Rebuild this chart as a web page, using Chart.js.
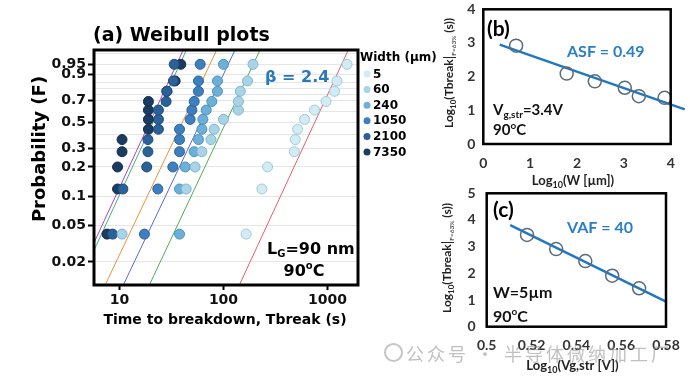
<!DOCTYPE html>
<html>
<head>
<meta charset="utf-8">
<script src="https://cdn.jsdelivr.net/npm/chart.js@4.4.0/dist/chart.umd.min.js"></script>
<style>
  body { margin: 0; background: #fff; width: 690px; height: 378px; overflow: hidden; position: relative; }
  canvas { position: absolute; }
  #chartA { left: 0; top: 0; }
  #chartB { left: 430px; top: 0; }
  #chartC { left: 430px; top: 180px; }
  #wm { position: absolute; left: 406px; top: 340px; font: 18px "Noto Sans CJK SC"; letter-spacing: 3px; color: rgba(140,140,140,0.55); white-space: nowrap; }
  #wmIcon { position: absolute; left: 384px; top: 343px; width: 15px; height: 15px; border: 2px solid rgba(140,140,140,0.5); border-radius: 50%; }
</style>
</head>
<body>
<canvas id="chartA" width="440" height="378"></canvas>
<canvas id="chartB" width="260" height="190"></canvas>
<canvas id="chartC" width="260" height="198"></canvas>
<div id="wmIcon"></div>
<div id="wm">公众号 · 半导体微纳加工厂</div>
<script>
// ---- panel (a): Weibull plots ----
const widths = ["5", "60", "240", "1050", "2100", "7350"];
const rankF = [0.04, 0.12, 0.20, 0.28, 0.36, 0.44, 0.525, 0.61, 0.69, 0.78, 0.86, 0.95];
const tW5 = [165, 234, 265, 479, 489, 515, 601, 750, 966, 1167, 1230, 1538];
const tW60 = [10.6, 43.8, 53.4, 62.0, 75.7, 81.4, 100, 139, 139, 145, 170, 192];
const tW240 = [37.8, 37.8, 42.9, 52.3, 57.5, 62.0, 63.4, 68.2, 77.3, 87.5, 87.5, 100];
const tW1050 = [17.4, 23.4, 32.6, 37.8, 37.8, 37.8, 47.8, 49.7, 52.3, 57.5, 57.5, 59.7];
const tW2100 = [8.6, 10.8, 18.3, 18.8, 18.8, 23.7, 23.7, 23.7, 28.1, 28.6, 33.0, 33.6];
const tW7350 = [7.6, 9.6, 9.6, 10.6, 10.6, 19.0, 19.0, 19.0, 19.0, 28.6, 34.3, 38.9];
// fitted lines: time at the bottom (F=0.0112) and top (F=0.9865) of the plot
const fitF = [0.0112, 0.9865];
const fitTLo = [142, 19.4, 10.9, 7.3, 4.0, 3.7];
const fitTHi = [1580, 224, 129, 86, 44, 41];
const xTicksA = [10, 100, 1000];
const yLabelF = [0.95, 0.9, 0.7, 0.5, 0.3, 0.2, 0.1, 0.05, 0.02];
const yGridF = [0.98, 0.95, 0.9, 0.85, 0.8, 0.75, 0.7, 0.6, 0.5, 0.4, 0.3, 0.2, 0.1, 0.05, 0.02];

// ---- panel (b): area scaling ----
const logW = [0.70, 1.78, 2.38, 3.02, 3.32, 3.87];
const logT63b = [2.92, 2.09, 1.86, 1.67, 1.42, 1.37];
const asfLineX = [0.35, 4.3];
const asfLineY = [2.95, 1.03];

// ---- panel (c): voltage acceleration ----
const logVg = [0.518, 0.531, 0.544, 0.556, 0.568];
const logT63c = [3.44, 2.91, 2.46, 1.91, 1.44];
const vafLineX = [0.5105, 0.58];
const vafLineY = [3.81, 0.94];
const xTicksC = [0.5, 0.52, 0.54, 0.56, 0.58];

const FA = "DejaVu Sans";
const FB = "Lato";
const pointFill = ["#d3ebf3", "#a9d3e6", "#6cb0d8", "#3d80bf", "#2a6198", "#1b3b60"];
const pointEdge = ["#9ecbdb", "#7db6cf", "#4a92bf", "#2b6197", "#1d4a77", "#122c4a"];
const fitColor = ["#e0606c", "#4cb050", "#5a6ad8", "#e8943a", "#3cb878", "#b040c8"];

const weib = F => Math.log(-Math.log(1 - F));

function rich(ctx, x, y, parts, opt = {}) {
    ctx.save();
    ctx.translate(x, y);
    if (opt.rot) ctx.rotate(opt.rot);
    let total = 0;
    for (const p of parts) { ctx.font = p.f; p.w = ctx.measureText(p.t).width; total += p.w; }
    let cx = opt.align === "center" ? -total / 2 : 0;
    ctx.textBaseline = "alphabetic";
    ctx.textAlign = "left";
    for (const p of parts) {
        ctx.font = p.f;
        ctx.fillStyle = p.c || opt.color || "#000";
        ctx.fillText(p.t, cx, p.dy || 0);
        cx += p.w;
    }
    ctx.restore();
}

function boxPlugin(width) {
    return {
        id: "box",
        afterDatasetsDraw(chart) {
            const a = chart.chartArea, ctx = chart.ctx;
            ctx.save();
            ctx.strokeStyle = "#000";
            ctx.lineWidth = width;
            ctx.strokeRect(a.left, a.top, a.right - a.left, a.bottom - a.top);
            ctx.restore();
        }
    };
}

// ---------- chart A ----------
const seriesT = [tW5, tW60, tW240, tW1050, tW2100, tW7350];
const dsA = [];
seriesT.forEach((ts, i) => {
    dsA.push({
        label: widths[i],
        data: ts.map((t, k) => ({x: t, y: weib(rankF[k])})),
        backgroundColor: pointFill[i],
        borderColor: pointEdge[i],
        borderWidth: 1,
        pointRadius: 5,
        pointHoverRadius: 5,
        showLine: false,
        order: 2 + i
    });
});
fitTLo.forEach((t0, i) => {
    dsA.push({
        label: "",
        data: [{x: t0, y: weib(fitF[0])}, {x: fitTHi[i], y: weib(fitF[1])}],
        showLine: true,
        borderColor: fitColor[i],
        borderWidth: 1,
        pointRadius: 0,
        order: 10
    });
});

const decoA = {
    id: "decoA",
    afterDraw(chart) {
        const ctx = chart.ctx;
        rich(ctx, 93, 40.5, [{t: "(a) Weibull plots", f: `bold 19px ${FA}`}]);
        rich(ctx, 45, 149, [{t: "Probability (F)", f: `bold 18px ${FA}`}], {rot: -Math.PI / 2, align: "center"});
        rich(ctx, 225, 323.5, [{t: "Time to breakdown, Tbreak (s)", f: `bold 14px ${FA}`}], {align: "center"});
        rich(ctx, 265, 81.5, [{t: "β = 2.4", f: `bold 16px ${FA}`}], {color: "#2878be"});
        rich(ctx, 267, 254, [
            {t: "L", f: `bold 16px ${FA}`},
            {t: "G", f: `bold 10px ${FA}`, dy: 3},
            {t: "=90 nm", f: `bold 16px ${FA}`}
        ]);
        rich(ctx, 304, 276, [
            {t: "90", f: `bold 16px ${FA}`},
            {t: "o", f: `bold 10px ${FA}`, dy: -7},
            {t: "C", f: `bold 16px ${FA}`}
        ], {align: "center"});
        // legend
        ctx.save();
        ctx.font = `bold 12px ${FA}`;
        ctx.fillStyle = "#000";
        ctx.textBaseline = "middle";
        ctx.fillText("Width (µm)", 360, 58);
        widths.forEach((w, i) => {
            const y = 74 + i * 15.6;
            ctx.beginPath();
            ctx.arc(367, y, 3.5, 0, Math.PI * 2);
            ctx.fillStyle = pointFill[i];
            ctx.fill();
            ctx.fillStyle = "#000";
            ctx.fillText(w, 373, y + 0.5);
        });
        ctx.restore();
    }
};

new Chart(document.getElementById("chartA"), {
    type: "scatter",
    data: {datasets: dsA},
    options: {
        responsive: false,
        animation: false,
        events: [],
        layout: {padding: {left: 0, top: 50, right: 82, bottom: 48}},
        plugins: {legend: {display: false}, tooltip: {enabled: false}},
        scales: {
            x: {
                type: "logarithmic",
                min: 5.7,
                max: 1960,
                afterBuildTicks: s => { s.ticks = xTicksA.map(v => ({value: v})); },
                afterFit: s => { s.height = 45; },
                grid: {drawOnChartArea: false, tickLength: 5, tickWidth: 2, tickColor: "#000"},
                border: {display: false},
                ticks: {
                    font: {family: FA, weight: "bold", size: 14},
                    color: "#111",
                    padding: 2,
                    maxRotation: 0,
                    autoSkip: false,
                    callback: v => String(v)
                }
            },
            y: {
                type: "linear",
                min: weib(fitF[0]),
                max: weib(fitF[1]),
                afterBuildTicks: s => { s.ticks = yGridF.map(F => ({value: weib(F), F: F})); },
                afterFit: s => { s.width = 94; },
                grid: {
                    color: "#e6e6e6",
                    lineWidth: 1,
                    tickLength: 6,
                    tickWidth: 2,
                    tickColor: c => (c.tick && yLabelF.includes(c.tick.F)) ? "#000" : "rgba(0,0,0,0)"
                },
                border: {display: false},
                ticks: {
                    font: {family: FA, weight: "bold", size: 14},
                    color: "#111",
                    padding: 2,
                    autoSkip: false,
                    callback: (v, i, ticks) => yLabelF.includes(ticks[i].F) ? String(ticks[i].F) : ""
                }
            }
        }
    },
    plugins: [boxPlugin(3), decoA]
});

// ---------- shared for B and C ----------
const tickFontB = {family: FB, weight: "bold", size: 14};
const circleStyle = {
    showLine: false,
    pointRadius: 6.5,
    pointHoverRadius: 6.5,
    backgroundColor: "rgba(0,0,0,0)",
    borderColor: "#5a6b78",
    borderWidth: 1.5,
    order: 1
};
const fitStyle = {showLine: true, pointRadius: 0, borderColor: "#1f78c1", borderWidth: 2.5, order: 2, clip: false};
// invisible tick marks give the label gap without adding layout padding
const hiddenTicks = len => ({display: true, drawOnChartArea: false, drawTicks: true, tickLength: len, tickColor: "rgba(0,0,0,0)"});

function yTitle(ctx, x, y) {
    rich(ctx, x, y, [
        {t: "Log", f: `bold 12px ${FB}`},
        {t: "10", f: `bold 8px ${FB}`, dy: 3},
        {t: "(Tbreak", f: `bold 12px ${FB}`},
        {t: "|", f: `14px ${FB}`, dy: 1},
        {t: "F=63%", f: `6.5px ${FB}`, dy: 3},
        {t: " (s))", f: `bold 12px ${FB}`}
    ], {rot: -Math.PI / 2, align: "center", color: "#222"});
}

// ---------- chart B ----------
const decoB = {
    id: "decoB",
    afterDraw(chart) {
        const ctx = chart.ctx;
        rich(ctx, 57, 35.5, [{t: "(b)", f: `bold 21px ${FB}`}]);
        rich(ctx, 137, 56.5, [{t: "ASF = 0.49", f: `bold 16px ${FB}`}], {color: "#2a7fc4"});
        rich(ctx, 63, 114.5, [
            {t: "V", f: `bold 15px ${FB}`},
            {t: "g,str", f: `bold 10px ${FB}`, dy: 3},
            {t: "=3.4V", f: `bold 15px ${FB}`}
        ], {color: "#111"});
        rich(ctx, 63, 134.5, [
            {t: "90", f: `bold 15px ${FB}`},
            {t: "o", f: `bold 10px ${FB}`, dy: -6},
            {t: "C", f: `bold 15px ${FB}`}
        ], {color: "#111"});
        rich(ctx, 143, 185, [
            {t: "Log", f: `bold 13px ${FB}`},
            {t: "10", f: `bold 9px ${FB}`, dy: 3},
            {t: "(W [µm])", f: `bold 13px ${FB}`}
        ], {align: "center", color: "#222"});
        yTitle(ctx, 22.5, 73);
    }
};

new Chart(document.getElementById("chartB"), {
    type: "scatter",
    data: {
        datasets: [
            Object.assign({data: logW.map((x, i) => ({x: x, y: logT63b[i]}))}, circleStyle),
            Object.assign({data: asfLineX.map((x, i) => ({x: x, y: asfLineY[i]}))}, fitStyle)
        ]
    },
    options: {
        responsive: false,
        animation: false,
        events: [],
        layout: {padding: {left: 0, top: 9.3, right: 19.3, bottom: 16}},
        plugins: {legend: {display: false}, tooltip: {enabled: false}},
        scales: {
            x: {
                type: "linear", min: 0, max: 4,
                ticks: {stepSize: 1, font: tickFontB, color: "#333", padding: 0, maxRotation: 0},
                afterFit: s => { s.height = 30; },
                grid: hiddenTicks(11),
                border: {display: false}
            },
            y: {
                type: "linear", min: 0, max: 4,
                ticks: {stepSize: 1, font: tickFontB, color: "#333", padding: 0},
                afterFit: s => { s.width = 53.3; },
                grid: hiddenTicks(8),
                border: {display: false}
            }
        }
    },
    plugins: [boxPlugin(2.5), decoB]
});

// ---------- chart C ----------
const decoC = {
    id: "decoC",
    afterDraw(chart) {
        const ctx = chart.ctx;
        rich(ctx, 63, 36.5, [{t: "(c)", f: `bold 21px ${FB}`}]);
        rich(ctx, 137, 53, [{t: "VAF = 40", f: `bold 16px ${FB}`}], {color: "#2a7fc4"});
        rich(ctx, 63, 118.3, [{t: "W=5µm", f: `bold 16px ${FB}`}], {color: "#111"});
        rich(ctx, 63, 141.7, [
            {t: "90", f: `bold 16px ${FB}`},
            {t: "o", f: `bold 10px ${FB}`, dy: -7},
            {t: "C", f: `bold 16px ${FB}`}
        ], {color: "#111"});
        rich(ctx, 142.5, 189.5, [
            {t: "Log", f: `bold 13px ${FB}`},
            {t: "10", f: `bold 9px ${FB}`, dy: 3},
            {t: "(Vg,str [V])", f: `bold 13px ${FB}`}
        ], {align: "center", color: "#222"});
        yTitle(ctx, 21, 78);
    }
};

new Chart(document.getElementById("chartC"), {
    type: "scatter",
    data: {
        datasets: [
            Object.assign({data: logVg.map((x, i) => ({x: x, y: logT63c[i]}))}, circleStyle),
            Object.assign({data: vafLineX.map((x, i) => ({x: x, y: vafLineY[i]}))}, fitStyle)
        ]
    },
    options: {
        responsive: false,
        animation: false,
        events: [],
        layout: {padding: {left: 0, top: 13.3, right: 24, bottom: 21.3}},
        plugins: {legend: {display: false}, tooltip: {enabled: false}},
        scales: {
            x: {
                type: "linear", min: 0.5, max: 0.58,
                afterBuildTicks: s => { s.ticks = xTicksC.map(v => ({value: v})); },
                ticks: {font: tickFontB, color: "#333", padding: 0, maxRotation: 0, autoSkip: false,
                        callback: v => String(Number(v.toFixed(2)))},
                afterFit: s => { s.height = 30; },
                grid: hiddenTicks(10),
                border: {display: false}
            },
            y: {
                type: "linear", min: 0, max: 5,
                ticks: {stepSize: 1, font: tickFontB, color: "#333", padding: 0},
                afterFit: s => { s.width = 56.7; },
                grid: hiddenTicks(11),
                border: {display: false}
            }
        }
    },
    plugins: [boxPlugin(2.5), decoC]
});
</script>
</body>
</html>
